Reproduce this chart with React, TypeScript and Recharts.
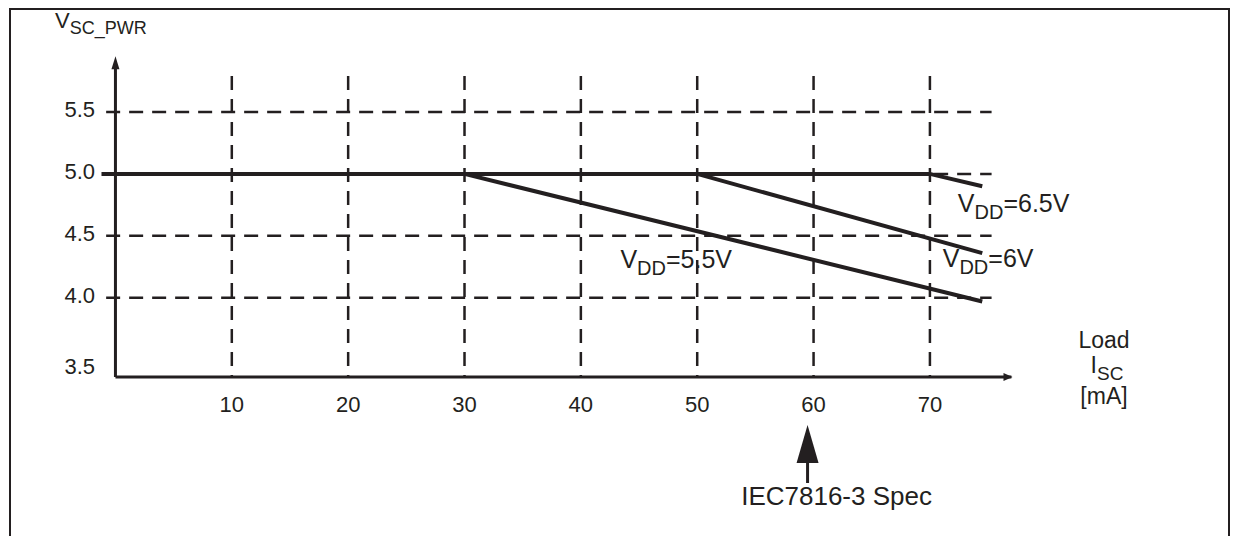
import { LineChart, Line, XAxis, YAxis, ReferenceLine, ReferenceDot } from "recharts"

const ink = "#231f20"
const font = "'Liberation Sans', Arial, sans-serif"

// load current [mA] / V_SC_PWR [V] for each supply
const vdd65Load = [-1.2, 70, 74.5]
const vdd65Vsc = [5.0, 5.0, 4.9]
const vdd6Load = [50, 74.5]
const vdd6Vsc = [5.0, 4.36]
const vdd55Load = [30, 74.5]
const vdd55Vsc = [5.0, 3.97]

const xTicks = [10, 20, 30, 40, 50, 60, 70]
const yTicks = [3.5, 4.0, 4.5, 5.0, 5.5]
const yGrid = [4.0, 4.5, 5.0, 5.5]
const specLoad = 60

const toPoints = (xs: number[], ys: number[]) => xs.map((x, i) => ({ x, y: ys[i] }))

const XTick = (props: any) => (
  <text x={props.x} y={props.y + 35} textAnchor="middle" fontSize={22} fontFamily={font} fill={ink}>
    {props.payload.value}
  </text>
)

const YTick = (props: any) => {
  const v = props.payload.value
  // the 3.5 label sits down on the axis in the original
  const dy = v === 3.5 ? 14 : 5
  return (
    <text x={props.x - 3} y={props.y + dy} textAnchor="end" fontSize={22} fontFamily={font} fill={ink}>
      {v.toFixed(1)}
    </text>
  )
}

const vddLabel = (value: string) => (p: any) => (
  <text x={p.cx} y={p.cy} fontSize={25} fontFamily={font} fill={ink}>
    <tspan>V</tspan>
    <tspan dy={7} fontSize={20}>DD</tspan>
    <tspan dy={-7}>={value}</tspan>
  </text>
)

export default function App() {
  return (
    <div style={{ position: "absolute", left: 0, top: 0, width: 1240, height: 536, background: "#fff", overflow: "hidden" }}>
      <div
        style={{
          position: "absolute",
          left: 9,
          top: 8,
          width: 1217,
          height: 540,
          borderTop: `2px solid ${ink}`,
          borderLeft: `2px solid ${ink}`,
          borderRight: `2px solid ${ink}`,
        }}
      />
      <div style={{ position: "absolute", left: 0, top: 0 }}>
        <LineChart width={1240} height={536} margin={{ top: 55, right: 217, bottom: 119, left: 0 }}>
          <XAxis
            type="number"
            dataKey="x"
            domain={[-1.5, 78]}
            ticks={xTicks}
            allowDataOverflow
            axisLine={false}
            tickLine={false}
            tickSize={0}
            tickMargin={0}
            height={40}
            tick={XTick}
            label={{
              content: ({ viewBox }: any) => {
                const cx = viewBox.x + viewBox.width + 81
                const y = viewBox.y
                return (
                  <g fontFamily={font} fill={ink} textAnchor="middle">
                    <text x={cx} y={y - 29} fontSize={23}>Load</text>
                    <text x={cx + 3} y={y - 4} fontSize={23}>
                      <tspan>I</tspan>
                      <tspan dy={7} fontSize={19}>SC</tspan>
                    </text>
                    <text x={cx} y={y + 27} fontSize={23}>[mA]</text>
                  </g>
                )
              },
            }}
          />
          <YAxis
            type="number"
            domain={[3.36, 5.96]}
            ticks={yTicks}
            allowDataOverflow
            axisLine={false}
            tickLine={false}
            tickSize={0}
            tickMargin={0}
            width={98}
            tick={YTick}
            label={{
              content: ({ viewBox }: any) => (
                <text x={viewBox.x + 55} y={viewBox.y - 27} fontFamily={font} fill={ink} fontSize={22}>
                  <tspan>V</tspan>
                  <tspan dy={6} fontSize={18}>SC_PWR</tspan>
                </text>
              ),
            }}
          />

          {yGrid.map((v) => (
            <ReferenceLine
              key={"h" + v}
              segment={[{ x: -0.8, y: v }, { x: 75.3, y: v }]}
              stroke={ink}
              strokeWidth={2.5}
              strokeDasharray="14 9"
            />
          ))}
          {xTicks.map((v) => (
            <ReferenceLine
              key={"v" + v}
              segment={[{ x: v, y: 5.79 }, { x: v, y: 3.36 }]}
              stroke={ink}
              strokeWidth={2.5}
              strokeDasharray="14 9"
            />
          ))}

          {/* axes with arrows */}
          <ReferenceLine segment={[{ x: 0, y: 3.36 }, { x: 0, y: 5.9 }]} stroke={ink} strokeWidth={3} />
          <ReferenceLine segment={[{ x: 0, y: 3.36 }, { x: 77, y: 3.36 }]} stroke={ink} strokeWidth={3} />
          <ReferenceDot
            x={0}
            y={5.95}
            ifOverflow="visible"
            shape={(p: any) => <polygon points={`${p.cx},${p.cy} ${p.cx - 4},${p.cy + 13} ${p.cx + 4},${p.cy + 13}`} fill={ink} />}
          />
          <ReferenceDot
            x={77.1}
            y={3.36}
            ifOverflow="visible"
            shape={(p: any) => <polygon points={`${p.cx},${p.cy} ${p.cx - 9},${p.cy - 4} ${p.cx - 9},${p.cy + 4}`} fill={ink} />}
          />

          <Line data={toPoints(vdd65Load, vdd65Vsc)} dataKey="y" type="linear" stroke={ink} strokeWidth={4} dot={false} isAnimationActive={false} />
          <Line data={toPoints(vdd6Load, vdd6Vsc)} dataKey="y" type="linear" stroke={ink} strokeWidth={4} dot={false} isAnimationActive={false} />
          <Line data={toPoints(vdd55Load, vdd55Vsc)} dataKey="y" type="linear" stroke={ink} strokeWidth={4} dot={false} isAnimationActive={false} />

          <ReferenceDot x={43.4} y={4.24} ifOverflow="visible" shape={vddLabel("5.5V")} />
          <ReferenceDot x={71.1} y={4.25} ifOverflow="visible" shape={vddLabel("6V")} />
          <ReferenceDot x={72.4} y={4.69} ifOverflow="visible" shape={vddLabel("6.5V")} />

          {/* IEC7816-3 spec marker under the 60 mA tick */}
          <ReferenceDot
            x={specLoad}
            y={3.36}
            ifOverflow="visible"
            shape={(p: any) => (
              <g>
                <polygon points={`${p.cx - 6},${p.cy + 48} ${p.cx - 17},${p.cy + 86} ${p.cx + 5},${p.cy + 86}`} fill={ink} />
                <line x1={p.cx - 6} y1={p.cy + 85} x2={p.cx - 6} y2={p.cy + 106} stroke={ink} strokeWidth={3} />
                <text x={p.cx + 23} y={p.cy + 128} textAnchor="middle" fontSize={26} fontFamily={font} fill={ink}>
                  IEC7816-3 Spec
                </text>
              </g>
            )}
          />
        </LineChart>
      </div>
    </div>
  )
}
